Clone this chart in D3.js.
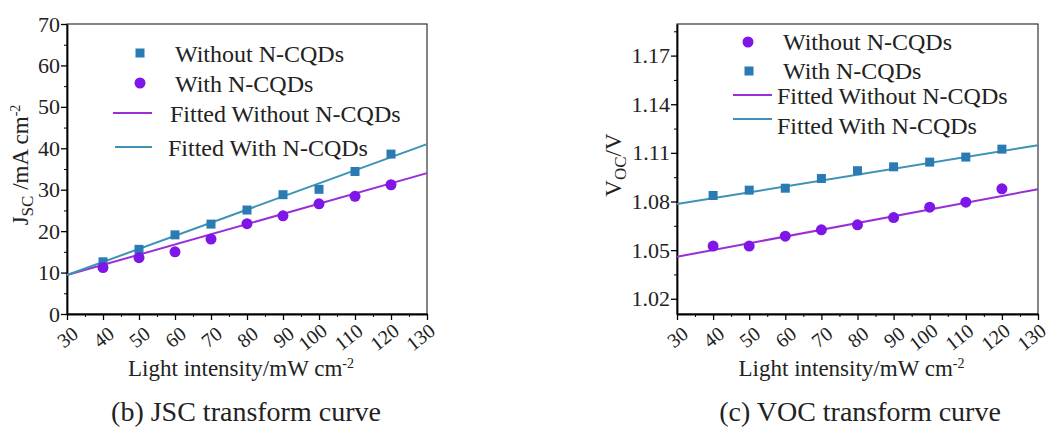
<!DOCTYPE html>
<html>
<head>
<meta charset="utf-8">
<script src="https://cdn.jsdelivr.net/npm/d3@7"></script>
<style>
  body { margin: 0; background: #fff; }
  text { font-family: "Liberation Serif", "Times New Roman", serif; fill: #222; }
</style>
</head>
<body>
<div id="chart"></div>
<script>
// light intensity (mW cm-2)
var intensity = [40, 50, 60, 70, 80, 90, 100, 110, 120];
var fitX = [30, 130];

// (b) Jsc panel
var jscWithout = [12.6, 15.6, 19.1, 21.7, 25.1, 28.8, 30.1, 34.4, 38.6];   // squares
var jscWith    = [11.2, 13.6, 15.0, 18.1, 21.8, 23.7, 26.6, 28.4, 31.2];   // circles
var jscFitWithout = [9.4, 34.0];
var jscFitWith    = [9.4, 41.0];
var jscTicks = [0, 10, 20, 30, 40, 50, 60, 70];

// (c) Voc panel
var vocWithout = [1.0525, 1.0525, 1.0586, 1.0625, 1.0656, 1.0701, 1.0765, 1.0796, 1.0878]; // circles
var vocWith    = [1.0837, 1.0870, 1.0882, 1.0942, 1.0990, 1.1014, 1.1043, 1.1074, 1.1123]; // squares
var vocFitWithout = [1.0459, 1.0876];
var vocFitWith    = [1.0784, 1.1147];
var vocTicks = [1.02, 1.05, 1.08, 1.11, 1.14, 1.17];

var xTicks = [30, 40, 50, 60, 70, 80, 90, 100, 110, 120, 130];

var blue = "#2a7bb4", purple = "#7d16e6", purpleLine = "#9a2fd6", teal = "#3d93b4";

var svg = d3.select("#chart").append("svg")
  .attr("width", 1049).attr("height", 430);

function drawPanel(p) {
  var w = p.right - p.left, h = p.bottom - p.top;
  var x = d3.scaleLinear().domain([30, 130]).range([0, w]);
  var y = d3.scaleLinear().domain(p.yDomain).range([h, 0]);

  var g = svg.append("g").attr("transform", "translate(" + p.left + "," + p.top + ")");

  // frame top/right
  g.append("rect").attr("width", w).attr("height", h)
    .attr("fill", "none").attr("stroke", "#333").attr("stroke-width", 1.2);

  // minor ticks
  var xMinor = d3.range(35, 130, 10);
  g.append("g").attr("transform", "translate(0," + h + ")")
    .call(d3.axisBottom(x).tickValues(xMinor).tickSize(3).tickFormat(""))
    .call(function(a) { a.select(".domain").remove(); });
  g.append("g")
    .call(d3.axisLeft(y).tickValues(p.yMinor).tickSize(3).tickFormat(""))
    .call(function(a) { a.select(".domain").remove(); });

  // major axes
  var xa = g.append("g").attr("transform", "translate(0," + h + ")")
    .call(d3.axisBottom(x).tickValues(xTicks).tickSize(6).tickSizeOuter(0));
  xa.select(".domain").attr("stroke-width", 1.8);
  xa.selectAll("line").attr("stroke-width", 1.3);
  xa.selectAll("text")
    .style("font-size", "20px")
    .attr("text-anchor", "middle")
    .attr("y", 0).attr("dy", 0)
    .attr("transform", function(d) {
      var off = d >= 100 ? -7 : 0;
      return "translate(" + off + ",23) rotate(-38)";
    })
    .attr("dominant-baseline", "central");

  var ya = g.append("g")
    .call(d3.axisLeft(y).tickValues(p.yTicks).tickSize(6).tickSizeOuter(0).tickFormat(p.yFormat));
  ya.select(".domain").attr("stroke-width", 1.8);
  ya.selectAll("line").attr("stroke-width", 1.3);
  ya.selectAll("text").style("font-size", "22px").attr("x", -7);

  // fitted lines
  var line = d3.line().x(function(d) { return x(d[0]); }).y(function(d) { return y(d[1]); });
  g.append("path").datum(fitX.map(function(v, i) { return [v, p.fitPurple[i]]; }))
    .attr("d", line).attr("fill", "none").attr("stroke", purpleLine).attr("stroke-width", 2);
  g.append("path").datum(fitX.map(function(v, i) { return [v, p.fitTeal[i]]; }))
    .attr("d", line).attr("fill", "none").attr("stroke", teal).attr("stroke-width", 2);

  // markers
  g.selectAll(".sq").data(p.squares).enter().append("rect")
    .attr("x", function(d, i) { return x(intensity[i]) - 4.5; })
    .attr("y", function(d) { return y(d) - 4.5; })
    .attr("width", 9).attr("height", 9).attr("fill", blue);
  g.selectAll(".ci").data(p.circles).enter().append("circle")
    .attr("cx", function(d, i) { return x(intensity[i]); })
    .attr("cy", function(d) { return y(d); })
    .attr("r", 5.5).attr("fill", purple);

  // legend
  var lg = svg.append("g");
  p.legend.forEach(function(it) {
    if (it.type == "square") {
      lg.append("rect").attr("x", it.mx - 4.5).attr("y", it.my - 4.5)
        .attr("width", 9).attr("height", 9).attr("fill", blue);
    } else if (it.type == "circle") {
      lg.append("circle").attr("cx", it.mx).attr("cy", it.my).attr("r", 5.5).attr("fill", purple);
    } else {
      lg.append("line").attr("x1", it.mx).attr("x2", it.mx2).attr("y1", it.my).attr("y2", it.my)
        .attr("stroke", it.color).attr("stroke-width", 2);
    }
    lg.append("text").attr("x", it.tx).attr("y", it.ty)
      .style("font-size", "24px").text(it.label);
  });

  // x title
  var xt = svg.append("text").attr("x", p.left + w / 2 - 6).attr("y", 376)
    .attr("text-anchor", "middle").style("font-size", "23px");
  xt.append("tspan").text("Light intensity/mW cm");
  xt.append("tspan").attr("dy", -8).style("font-size", "14px").text("-2");

  // caption
  svg.append("text").attr("x", p.capX).attr("y", 421)
    .attr("text-anchor", "middle").style("font-size", "28px").text(p.caption);

  // y title
  var yt = svg.append("text")
    .attr("transform", "translate(" + p.yTitleX + "," + p.yTitleY + ") rotate(-90)")
    .attr("text-anchor", "middle").style("font-size", "23px");
  p.yTitle(yt);
}

drawPanel({
  left: 67, right: 427, top: 24, bottom: 314,
  yDomain: [0, 70], yTicks: jscTicks, yMinor: d3.range(5, 70, 10),
  yFormat: d3.format("d"),
  squares: jscWithout, circles: jscWith,
  fitPurple: jscFitWithout, fitTeal: jscFitWith,
  legend: [
    { type: "square", mx: 140, my: 53, tx: 175, ty: 62, label: "Without N-CQDs" },
    { type: "circle", mx: 140, my: 83, tx: 175, ty: 92, label: "With N-CQDs" },
    { type: "line", mx: 113, mx2: 152, my: 113, color: purpleLine, tx: 170, ty: 122, label: "Fitted Without N-CQDs" },
    { type: "line", mx: 115, mx2: 152, my: 147, color: teal, tx: 168, ty: 156, label: "Fitted With N-CQDs" }
  ],
  capX: 246, caption: "(b) JSC transform curve",
  yTitleX: 28, yTitleY: 165,
  yTitle: function(t) {
    t.append("tspan").text("J");
    t.append("tspan").attr("dy", 5).style("font-size", "17px").text("SC");
    t.append("tspan").attr("dy", -5).text(" /mA cm");
    t.append("tspan").attr("dy", -8).style("font-size", "14px").text("-2");
  }
});

drawPanel({
  left: 677, right: 1038, top: 24, bottom: 314,
  yDomain: [1.0106, 1.1895], yTicks: vocTicks, yMinor: [1.035, 1.065, 1.095, 1.125, 1.155, 1.185],
  yFormat: d3.format(".2f"),
  squares: vocWith, circles: vocWithout,
  fitPurple: vocFitWithout, fitTeal: vocFitWith,
  legend: [
    { type: "circle", mx: 748, my: 42, tx: 783, ty: 50, label: "Without N-CQDs" },
    { type: "square", mx: 749, my: 71, tx: 783, ty: 79, label: "With N-CQDs" },
    { type: "line", mx: 733, mx2: 772, my: 95, color: purpleLine, tx: 777, ty: 104, label: "Fitted Without N-CQDs" },
    { type: "line", mx: 733, mx2: 772, my: 119, color: teal, tx: 777, ty: 134, label: "Fitted With N-CQDs" }
  ],
  capX: 860, caption: "(c) VOC transform curve",
  yTitleX: 621, yTitleY: 165,
  yTitle: function(t) {
    t.append("tspan").text("V");
    t.append("tspan").attr("dy", 5).style("font-size", "17px").text("OC");
    t.append("tspan").attr("dy", -5).text("/V");
  }
});
</script>
</body>
</html>
